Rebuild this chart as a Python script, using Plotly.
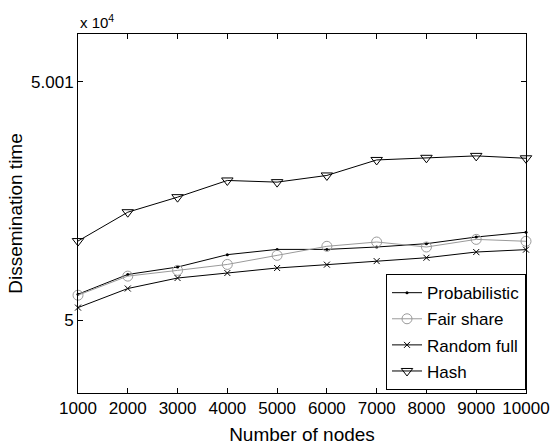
import plotly.graph_objects as go

nodes = [1000, 2000, 3000, 4000, 5000, 6000, 7000, 8000, 9000, 10000]
probabilistic = [50001.09, 50001.92, 50002.23, 50002.75, 50002.97, 50002.97, 50003.07, 50003.21, 50003.49, 50003.69]
fair_share = [50001.05, 50001.85, 50002.09, 50002.34, 50002.72, 50003.10, 50003.28, 50003.07, 50003.39, 50003.31]
random_full = [50000.53, 50001.33, 50001.77, 50001.98, 50002.19, 50002.33, 50002.48, 50002.62, 50002.86, 50002.96]
hash_vals = [50003.32, 50004.53, 50005.16, 50005.86, 50005.79, 50006.07, 50006.72, 50006.81, 50006.89, 50006.79]

y_tickvals = [50000, 50010]
y_ticktext = ["5", "5.001"]

font_family = "Liberation Sans, Arial, sans-serif"

fig = go.Figure()
fig.add_trace(go.Scatter(x=nodes, y=probabilistic, name="Probabilistic", mode="lines+markers", legendgroup="a",
                         line=dict(color="black", width=1),
                         marker=dict(symbol="circle", size=3, color="black"), cliponaxis=False))
fig.add_trace(go.Scatter(x=nodes, y=fair_share, name="Fair share", mode="lines+markers", legendgroup="b",
                         line=dict(color="#9a9a9a", width=1),
                         marker=dict(symbol="circle-open", size=10, color="#9a9a9a", line=dict(width=1)), cliponaxis=False))
fig.add_trace(go.Scatter(x=nodes, y=random_full, name="Random full", mode="lines+markers", legendgroup="c",
                         line=dict(color="black", width=1),
                         marker=dict(symbol="x-thin-open", size=6, color="black", line=dict(width=1)), cliponaxis=False))
fig.add_trace(go.Scatter(x=nodes, y=hash_vals, name="Hash", mode="lines+markers", legendgroup="d",
                         line=dict(color="black", width=1),
                         marker=dict(symbol="triangle-down-open", size=10, color="black", line=dict(width=1)), cliponaxis=False))

axis_common = dict(showline=True, linecolor="black", linewidth=1, mirror="ticks", ticks="inside",
                   ticklen=5, tickcolor="black", showgrid=False, zeroline=False, automargin=False,
                   ticklabeloverflow="allow",
                   tickfont=dict(family=font_family, size=17, color="black"))

fig.update_layout(
    width=553, height=445,
    margin=dict(l=78, r=27, t=34, b=52),
    paper_bgcolor="white", plot_bgcolor="white",
    font=dict(family=font_family, color="black"),
    xaxis=dict(range=[1000, 10000], tickvals=nodes, ticktext=[str(n) for n in nodes],
               title=dict(text="Number of nodes", font=dict(size=19), standoff=10), **axis_common),
    yaxis=dict(range=[49996.95, 50012.0], tickvals=y_tickvals, ticktext=y_ticktext,
               title=dict(text="Dissemination time", font=dict(size=19), standoff=3), **axis_common),
    legend=dict(x=1, y=0.008, xanchor="right", yanchor="bottom", bgcolor="white",
                bordercolor="black", borderwidth=1, font=dict(size=17, family=font_family),
                tracegroupgap=1, itemwidth=30, traceorder="grouped"),
    annotations=[dict(text="x 10<sup>4</sup>", x=0, y=1, xref="paper", yref="paper",
                      xanchor="left", yanchor="bottom", showarrow=False, yshift=1,
                      font=dict(size=15, family=font_family))],
    showlegend=True,
)

fig.write_html(
    "out.html",
    config={"displayModeBar": False},
    post_script="document.body.style.margin='0';document.documentElement.style.overflow='hidden';document.body.style.overflow='hidden';",
)
